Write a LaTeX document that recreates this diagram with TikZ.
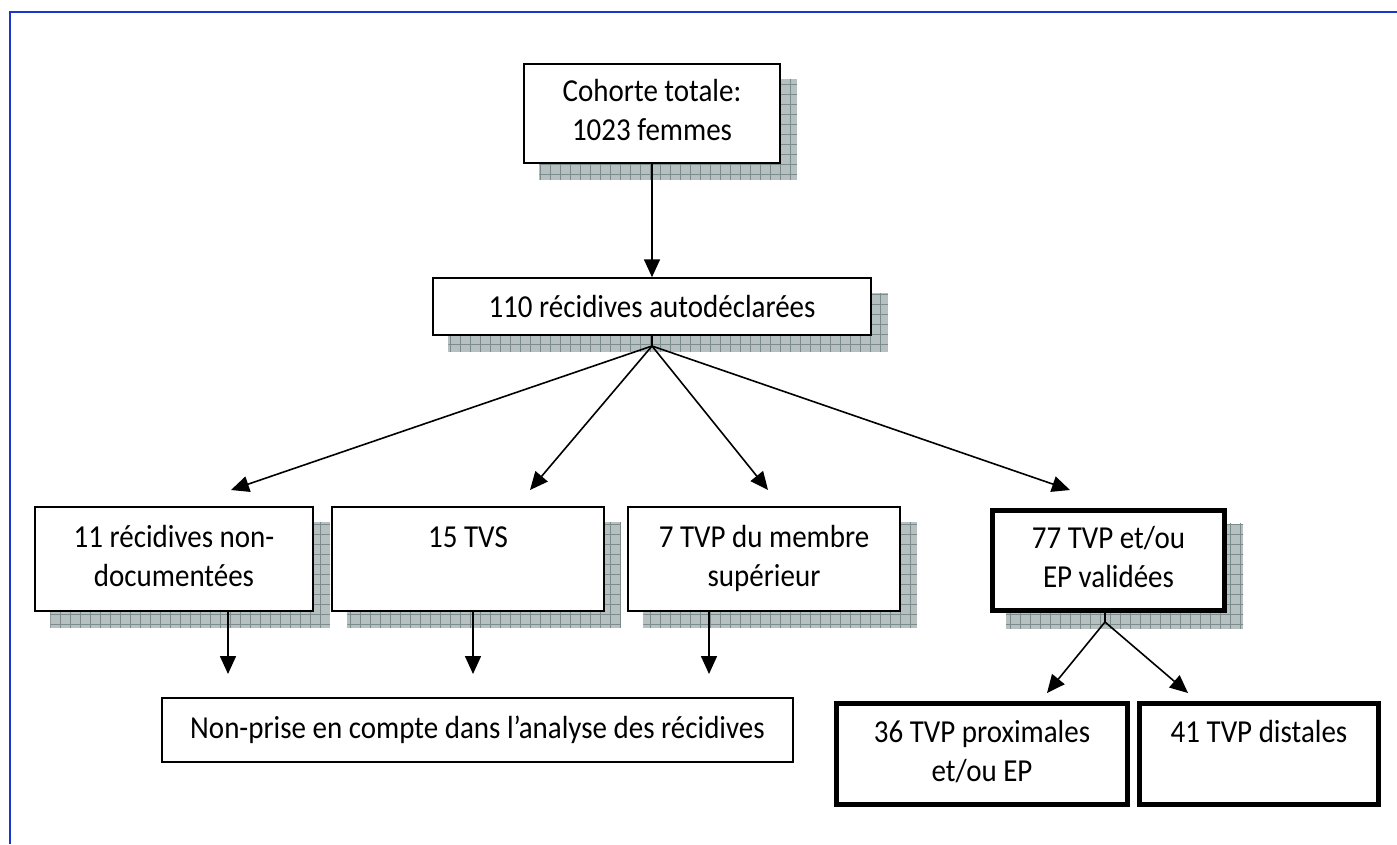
\documentclass[tikz,border=0pt]{standalone}
\usepackage{fontspec}
\setmainfont{Carlito}[FakeStretch=0.906]
\usetikzlibrary{arrows.meta,patterns,backgrounds}

\definecolor{frameblue}{RGB}{25,55,205}
\definecolor{shadowfill}{RGB}{182,192,192}
\definecolor{shadowline}{RGB}{124,140,140}

% grid texture used inside the drop shadows
\pgfdeclarepatternformonly{shadowgrid}{\pgfqpoint{-1pt}{-1pt}}{\pgfqpoint{10pt}{10pt}}{\pgfqpoint{10pt}{10pt}}{%
  \pgfsetlinewidth{0.9pt}%
  \pgfpathmoveto{\pgfqpoint{0pt}{0pt}}\pgfpathlineto{\pgfqpoint{10pt}{0pt}}%
  \pgfpathmoveto{\pgfqpoint{0pt}{0pt}}\pgfpathlineto{\pgfqpoint{0pt}{10pt}}%
  \pgfusepath{stroke}}

\tikzset{
  box/.style={draw=black, line width=1.5pt, fill=white, rectangle, inner sep=0pt,
    align=center, font=\fontsize{32}{39}\selectfont},
  boldbox/.style={box, line width=5pt},
  arr/.style={line width=1.6pt, -{Triangle[length=18pt,width=16pt]}},
}

\newcommand{\twolines}[2]{\strut #1\\\strut #2}

\begin{document}
\begin{tikzpicture}[x=1pt,y=-1pt]
  \useasboundingbox (0,0) rectangle (1397,844);

  % page frame
  \draw[frameblue, line width=2.6pt] (10,844) -- (10,12) -- (1397,12);

  % boxes
  \node[box, minimum width=256pt, minimum height=99pt] (coh) at (652,113.5)
    {\twolines{Cohorte totale:}{1023 femmes}};
  \node[box, minimum width=438pt, minimum height=57pt] (r110) at (652,306.5)
    {110 récidives autodéclarées};

  \node[box, minimum width=278pt, minimum height=104pt] (b11) at (174,559)
    {\twolines{11 récidives non-}{documentées}};
  \node[box, minimum width=272pt, minimum height=104pt] (tvs) at (468,559)
    {\twolines{15 TVS}{}};
  \node[box, minimum width=272pt, minimum height=104pt] (tvp7) at (764,559)
    {\twolines{7 TVP du membre}{supérieur}};
  \node[boldbox, minimum width=232pt, minimum height=100pt] (b77) at (1108.5,560)
    {\twolines{77 TVP et/ou}{EP validées}};

  \node[box, minimum width=631pt, minimum height=64pt] (np) at (477.5,730)
    {Non-prise en compte dans l’analyse des récidives};
  \node[boldbox, minimum width=291pt, minimum height=101pt] (b36) at (982,754)
    {\twolines{36 TVP proximales}{et/ou EP}};
  \node[boldbox, minimum width=239pt, minimum height=101pt] (b41) at (1259,754)
    {\twolines{41 TVP distales}{}};

  % drop shadows behind the upper boxes
  \begin{scope}[on background layer]
    \fill[white] (0,0) rectangle (1397,844);
    \foreach \n in {coh,r110,b11,tvs,tvp7,b77}{
      \fill[shadowfill] ([xshift=16pt,yshift=-16pt]\n.south west) rectangle ([xshift=16pt,yshift=-16pt]\n.north east);
      \fill[pattern=shadowgrid, pattern color=shadowline] ([xshift=16pt,yshift=-16pt]\n.south west) rectangle ([xshift=16pt,yshift=-16pt]\n.north east);
    }
  \end{scope}

  % branching points and arrow ends
  \coordinate (fan) at (652,346);
  \coordinate (t11) at (231,490);
  \coordinate (ttvs) at (530,490);
  \coordinate (ttvp) at (768,490);
  \coordinate (t77) at (1070,490);
  \coordinate (fan77) at (1105,622);
  \coordinate (t36) at (1047,693);
  \coordinate (t41) at (1188,693);
  \coordinate (d11) at (228,674);
  \coordinate (dtvs) at (473,674);
  \coordinate (dtvp) at (709,674);

  % connectors
  \draw[arr] (coh.south) -- (r110.north);
  \draw[line width=1.6pt] (r110.south) -- (fan);
  \draw[arr] (fan) -- (t11);
  \draw[arr] (fan) -- (ttvs);
  \draw[arr] (fan) -- (ttvp);
  \draw[arr] (fan) -- (t77);

  \draw[arr] (d11 |- b11.south) -- (d11);
  \draw[arr] (dtvs |- tvs.south) -- (dtvs);
  \draw[arr] (dtvp |- tvp7.south) -- (dtvp);

  \draw[line width=1.6pt] (b77.south -| fan77) -- (fan77);
  \draw[arr] (fan77) -- (t36);
  \draw[arr] (fan77) -- (t41);
\end{tikzpicture}
\end{document}
